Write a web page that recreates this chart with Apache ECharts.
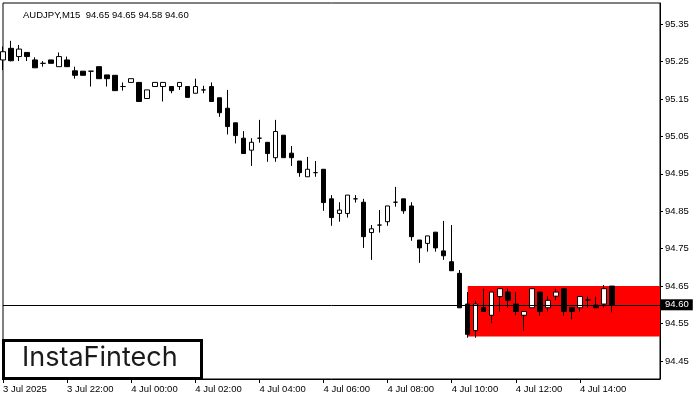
<!DOCTYPE html>
<html>
<head>
<meta charset="utf-8">
<script src="https://cdn.jsdelivr.net/npm/echarts@6/dist/echarts.min.js"></script>
<style>html,body{margin:0;padding:0;background:#fff;}#c{width:700px;height:400px;}</style>
</head>
<body>
<div id="c"></div>
<script>
// ---- data (open, close, low, high) ----
const opens = [95.254,95.285,95.263,95.274,95.254,95.245,95.254,95.236,95.254,95.225,
95.224,95.224,95.236,95.214,95.213,95.183,95.194,95.194,95.151,95.183,
95.183,95.183,95.183,95.183,95.165,95.174,95.183,95.153,95.125,95.086,
95.045,95.013,95.045,95.034,94.993,95.053,95.005,94.984,94.942,94.953,
94.962,94.883,94.844,94.844,94.883,94.874,94.793,94.813,94.822,94.874,
94.883,94.864,94.773,94.764,94.794,94.744,94.715,94.684,94.602,94.531,
94.593,94.572,94.622,94.634,94.602,94.572,94.592,94.634,94.592,94.623,
94.643,94.593,94.592,94.613,94.599,94.602,94.65];
const closes = [95.276,95.252,95.283,95.263,95.233,95.245,95.245,95.263,95.236,95.213,
95.213,95.224,95.204,95.204,95.172,95.183,95.204,95.143,95.174,95.194,
95.194,95.172,95.194,95.154,95.183,95.174,95.143,95.113,95.076,95.052,
95.004,95.034,95.045,95.004,95.063,94.993,94.993,94.953,94.962,94.953,
94.873,94.833,94.853,94.893,94.883,94.782,94.803,94.813,94.864,94.874,
94.851,94.782,94.752,94.784,94.752,94.731,94.691,94.592,94.521,94.602,
94.582,94.634,94.643,94.612,94.582,94.582,94.643,94.582,94.612,94.634,
94.582,94.582,94.622,94.613,94.592,94.643,94.60];
const lows = [95.227,95.25,95.251,95.251,95.233,95.236,95.245,95.236,95.236,95.204,
95.213,95.183,95.204,95.183,95.172,95.172,95.194,95.143,95.151,95.183,
95.143,95.165,95.174,95.154,95.165,95.165,95.143,95.102,95.055,95.031,
95.004,94.971,95.033,94.982,94.982,94.993,94.971,94.942,94.942,94.942,
94.851,94.811,94.822,94.833,94.873,94.752,94.72,94.793,94.811,94.862,
94.843,94.771,94.712,94.742,94.742,94.72,94.691,94.592,94.512,94.512,
94.582,94.551,94.582,94.592,94.572,94.531,94.592,94.571,94.582,94.612,
94.571,94.561,94.582,94.592,94.592,94.592,94.58];
const highs = [95.29,95.305,95.294,95.274,95.261,95.251,95.254,95.274,95.263,95.236,
95.224,95.224,95.236,95.214,95.213,95.194,95.204,95.194,95.174,95.194,
95.194,95.183,95.194,95.183,95.204,95.185,95.194,95.153,95.174,95.086,
95.064,95.045,95.094,95.034,95.094,95.053,95.024,94.984,94.995,94.984,
94.962,94.893,94.874,94.893,94.893,94.883,94.813,94.853,94.864,94.915,
94.883,94.874,94.773,94.784,94.794,94.824,94.813,94.693,94.634,94.61,
94.643,94.634,94.643,94.643,94.634,94.582,94.643,94.634,94.623,94.643,
94.643,94.593,94.622,94.622,94.622,94.653,94.65];

const yTicks = [94.45,94.55,94.65,94.75,94.85,94.95,95.05,95.15,95.25,95.35];
const xTickLabels = ['3 Jul 2025','3 Jul 22:00','4 Jul 00:00','4 Jul 02:00','4 Jul 04:00',
  '4 Jul 06:00','4 Jul 08:00','4 Jul 10:00','4 Jul 12:00','4 Jul 14:00'];
const bidPrice = 94.60;
const rectTop = 94.65, rectBottom = 94.515, rectStartIndex = 58;
const titleText = 'AUDJPY,M15  94.65 94.65 94.58 94.60';

// categories: 15-minute bars from 3 Jul 20:00, plus empty space on the right
const categories = [];
const totalSlots = 83;
for (let i = 0; i < totalSlots; i++) {
  const m = 20 * 60 + i * 15;
  const day = 3 + Math.floor(m / 1440);
  const mm = m % 1440;
  const hh = String(Math.floor(mm / 60)).padStart(2, '0');
  const mi = String(mm % 60).padStart(2, '0');
  categories.push(day + ' Jul ' + hh + ':' + mi);
}
const candles = opens.map((o, i) => [o, closes[i], lows[i], highs[i]]);

const FONT = 'Liberation Sans';
const chart = echarts.init(document.getElementById('c'), null, {renderer: 'canvas'});
chart.setOption({
  animation: false,
  backgroundColor: '#ffffff',
  title: {
    text: titleText, left: 18, top: 5,
    textStyle: {fontFamily: FONT, fontSize: 9.5, fontWeight: 'normal', color: '#000'}
  },
  grid: {left: 3, right: 40, top: 3, bottom: 21, show: true, borderColor: '#000', borderWidth: 1, backgroundColor: '#fff'},
  xAxis: {
    type: 'category', data: categories, boundaryGap: false,
    axisLine: {lineStyle: {color: '#000', width: 1}},
    axisTick: {show: true, length: 4, lineStyle: {color: '#000'},
      interval: (idx) => idx % 8 === 0 && idx / 8 < xTickLabels.length},
    axisLabel: {
      interval: (idx) => idx % 8 === 0 && idx / 8 < xTickLabels.length,
      formatter: (v, idx) => xTickLabels[idx / 8] || '',
      align: 'left', margin: 5, color: '#000', fontFamily: FONT, fontSize: 9.5
    },
    splitLine: {show: false}
  },
  yAxis: {
    type: 'value', position: 'right', scale: true,
    min: 94.4018, max: 95.4061,
    axisLine: {show: true, lineStyle: {color: '#000', width: 1}},
    axisTick: {show: true, length: 3, customValues: yTicks, lineStyle: {color: '#000'}},
    axisLabel: {customValues: yTicks, formatter: (v) => v.toFixed(2), margin: 5,
      color: '#000', fontFamily: FONT, fontSize: 9.5, align: 'left'},
    splitLine: {show: false}
  },
  series: [
    {
      type: 'line', data: [], z: 1, silent: true,
      markArea: {
        silent: true,
        itemStyle: {color: '#ff0000', opacity: 1},
        data: [[{xAxis: categories[rectStartIndex], yAxis: rectTop},
                {xAxis: categories[totalSlots - 1], yAxis: rectBottom}]]
      }
    },
    {
      type: 'line', data: [], z: 2, silent: true,
      markLine: {
        silent: true, symbol: ['none', 'none'],
        lineStyle: {color: '#000', width: 1, type: 'solid'},
        label: {show: true, position: 'end', distance: 1, formatter: bidPrice.toFixed(2),
          backgroundColor: '#000', color: '#fff', padding: [1, 4, 0, 4],
          fontFamily: FONT, fontSize: 9.5},
        data: [{yAxis: bidPrice}]
      }
    },
    {
      type: 'candlestick', data: candles, z: 3, barWidth: 5,
      itemStyle: {color: '#ffffff', color0: '#000000', borderColor: '#000000', borderColor0: '#000000', borderWidth: 1}
    }
  ],
  graphic: [
    {type: 'rect', left: 2, top: 339, z: 100,
      shape: {width: 198, height: 38}, style: {fill: '#fff', stroke: '#000', lineWidth: 3}},
    {type: 'text', left: 22, top: 344, z: 101,
      style: {text: 'InstaFintech', fill: '#1a1a1a', font: '400 27px Inter'}}
  ]
});
</script>
</body>
</html>
